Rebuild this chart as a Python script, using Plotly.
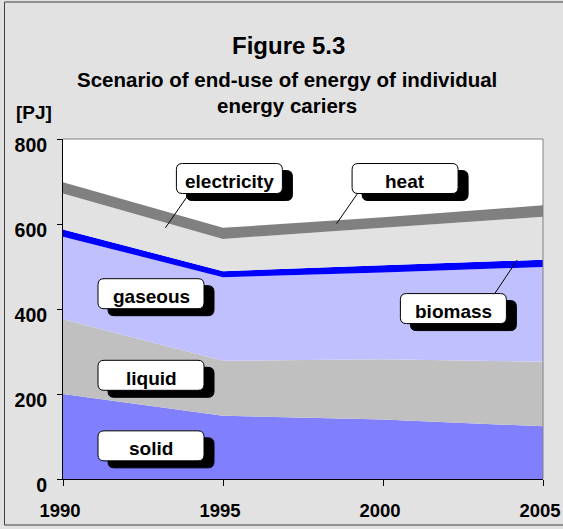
import plotly.graph_objects as go

# ---- data ----
years = [1990, 1995, 2000, 2005]
solid = [200, 149, 140, 124]
liquid = [176, 129, 142, 152]
gaseous = [194, 197, 204, 223]
biomass = [17, 14, 17, 17]
electricity = [85, 76, 88, 101]
heat = [26, 26, 25, 27]

series_names = ["solid", "liquid", "gaseous", "biomass", "electricity", "heat"]
series_values = [solid, liquid, gaseous, biomass, electricity, heat]
series_colors = ["#8080ff", "#c0c0c0", "#c0c0ff", "#0000ff", "#e2e2e2", "#808080"]

title_text = "Figure 5.3"
subtitle_lines = ["Scenario of end-use of energy of individual", "energy cariers"]
unit_label = "[PJ]"
y_ticks = [0, 200, 400, 600, 800]
x_ticks = [1990, 1995, 2000, 2005]

# label boxes: name -> (year, PJ) centre
label_pos = {
    "electricity": (1995.2, 707),
    "heat": (2000.69, 707),
    "biomass": (2002.2, 401),
    "gaseous": (1992.75, 436),
    "liquid": (1992.75, 244),
    "solid": (1992.75, 78),
}
# leader lines: (x0, y0, x1, y1) in data units
leaders = [
    (1993.91, 668, 1993.2, 591),
    (1999.27, 679, 1998.55, 601),
    (2003.49, 436, 2004.19, 515),
]

FONT = "Liberation Sans, Arial, sans-serif"
BG = "#e2e2e2"

# layout geometry (pixels)
ML, MR, MT, MB = 63, 20, 139, 50
W, H = 563, 529
PW, PH = W - ML - MR, H - MT - MB


def xp(px):
    return (px - ML) / PW


def yp(py):
    return (H - MB - py) / PH


fig = go.Figure()
for name, vals, col in zip(series_names, series_values, series_colors):
    fig.add_trace(go.Scatter(
        x=years, y=vals, name=name, stackgroup="one", mode="lines",
        line=dict(width=0, color=col), fillcolor=col, hoverinfo="skip",
    ))

shapes = []
# outer frame
shapes.append(dict(type="rect", xref="paper", yref="paper",
                   x0=xp(4.5), x1=xp(600), y0=yp(525), y1=yp(2),
                   line=dict(color="#404040", width=1), layer="below"))
# plot area top/right border
shapes.append(dict(type="path", xref="paper", yref="paper",
                   path="M 0,1 L 1,1 L 1,0", line=dict(color="#808080", width=1),
                   layer="above"))


def rrect(w, h, r, dx=0, dy=0):
    x0, x1 = -w / 2 + dx, w / 2 + dx
    y0, y1 = -h / 2 + dy, h / 2 + dy
    return (f"M {x0+r},{y0} L {x1-r},{y0} Q {x1},{y0} {x1},{y0+r} "
            f"L {x1},{y1-r} Q {x1},{y1} {x1-r},{y1} L {x0+r},{y1} "
            f"Q {x0},{y1} {x0},{y1-r} L {x0},{y0+r} Q {x0},{y0} {x0+r},{y0} Z")


BW, BH, BR = 106, 30, 6
for lx0, ly0, lx1, ly1 in leaders:
    shapes.append(dict(type="line", xref="x", yref="y", x0=lx0, y0=ly0, x1=lx1, y1=ly1,
                       line=dict(color="black", width=1), layer="above"))
annotations = []
for name, (lx, ly) in label_pos.items():
    shapes.append(dict(type="path", xref="x", yref="y", xsizemode="pixel", ysizemode="pixel",
                       xanchor=lx, yanchor=ly, path=rrect(BW, BH, BR, 10, -7),
                       fillcolor="black", line=dict(color="black", width=1), layer="above"))
    shapes.append(dict(type="path", xref="x", yref="y", xsizemode="pixel", ysizemode="pixel",
                       xanchor=lx, yanchor=ly, path=rrect(BW, BH, BR),
                       fillcolor="white", line=dict(color="black", width=1), layer="above"))
    annotations.append(dict(x=lx, y=ly, xref="x", yref="y", text=name, showarrow=False,
                            font=dict(family=FONT, size=19, color="black", weight="bold"),
                            xanchor="center", yanchor="middle", yshift=-3))

annotations.append(dict(x=xp(288), y=yp(45), xref="paper", yref="paper", text=title_text,
                        showarrow=False, xanchor="center", yanchor="middle",
                        font=dict(family=FONT, size=24, color="black", weight="bold")))
for i, line in enumerate(subtitle_lines):
    annotations.append(dict(x=xp(287), y=yp(80 + 26 * i), xref="paper", yref="paper", text=line,
                            showarrow=False, xanchor="center", yanchor="middle",
                            font=dict(family=FONT, size=20.5, color="black", weight="bold")))
annotations.append(dict(x=xp(34), y=yp(112), xref="paper", yref="paper", text=unit_label,
                        showarrow=False, xanchor="center", yanchor="middle",
                        font=dict(family=FONT, size=19, color="black", weight="bold")))

tickfont = dict(family=FONT, size=19.5, color="black", weight="bold")
xtickfont = dict(family=FONT, size=18.5, color="black", weight="bold")
fig.update_layout(
    width=W, height=H,
    margin=dict(l=ML, r=MR, t=MT, b=MB, pad=0, autoexpand=False),
    paper_bgcolor=BG, plot_bgcolor="white",
    showlegend=False,
    shapes=shapes, annotations=annotations,
    xaxis=dict(range=[1990, 2005], tickvals=x_ticks, ticks="outside", ticklen=6,
               tickcolor="black", tickwidth=1, showline=True, linecolor="black", linewidth=1,
               showgrid=False, zeroline=False, tickfont=xtickfont, ticklabelstandoff=9,
               ticklabelshift=-3, ticklabeloverflow="allow", automargin=False),
    xaxis2=dict(range=[1990, 2005], tickvals=x_ticks, ticks="inside", ticklen=6,
                tickcolor="black", tickwidth=1, showline=False, showgrid=False,
                zeroline=False, showticklabels=False, overlaying="x", anchor="y",
                automargin=False),
    yaxis=dict(range=[0, 800], tickvals=y_ticks, ticks="outside", ticklen=5,
               tickcolor="black", tickwidth=1, showline=True, linecolor="black", linewidth=1,
               showgrid=False, zeroline=False, tickfont=tickfont, ticklabelstandoff=6,
               ticklabelshift=6, ticklabeloverflow="allow", automargin=False),
)
fig.write_html("out.html", config={"displayModeBar": False},
               post_script="document.body.style.margin='0';document.body.style.overflow='hidden';")
